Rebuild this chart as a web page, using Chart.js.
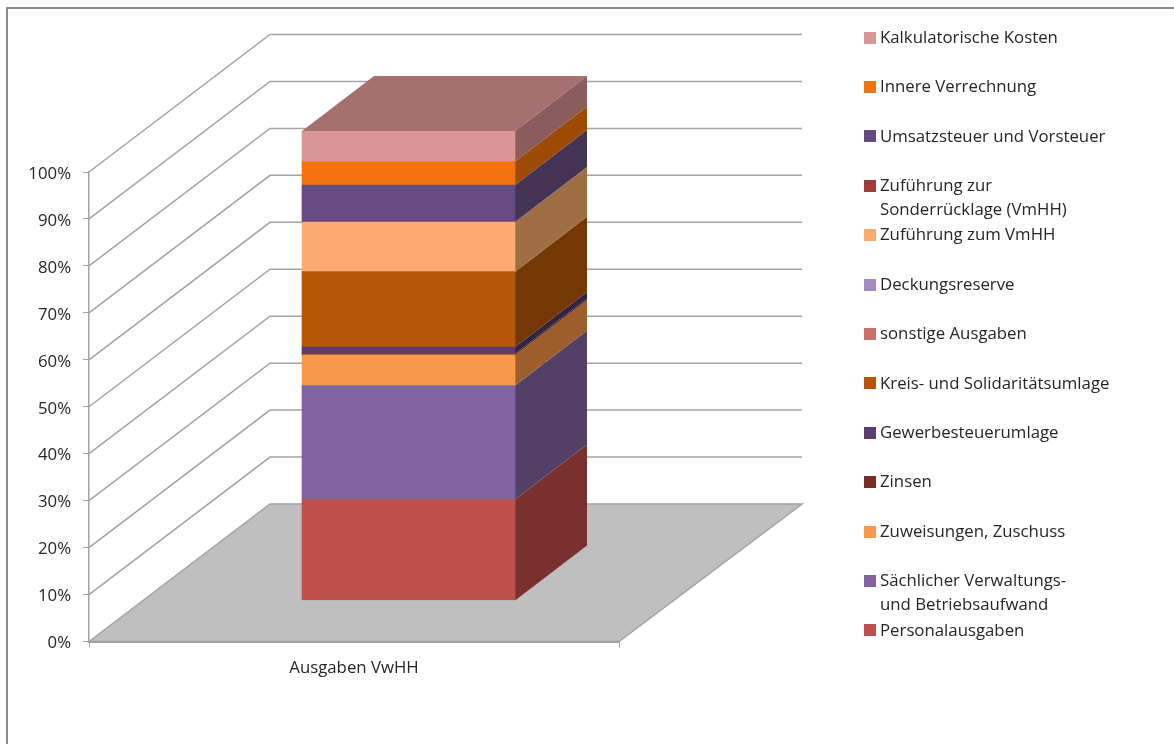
<!DOCTYPE html>
<html lang="de">
<head>
    <meta charset="UTF-8">
    <title>Ausgaben VwHH</title>
    <script src="https://cdn.jsdelivr.net/npm/chart.js"></script>
    <style>
        html, body { margin: 0; padding: 0; background: #fff; overflow: hidden; }
        #frame { position: absolute; left: 6px; top: 7px; right: 0; bottom: 0; border-left: 2px solid #8c8c8c; border-top: 2px solid #8c8c8c; }
        canvas { position: absolute; left: 0; top: 0; display: block; }
    </style>
</head>
<body>
    <div id="frame"></div>
    <canvas id="chart" width="1174" height="744"></canvas>

    <script>
        // Data, bottom of the stack first
        const categories = ['Ausgaben VwHH'];
        const seriesNames = [
            'Personalausgaben',
            'Sächlicher Verwaltungs-\nund Betriebsaufwand',
            'Zuweisungen, Zuschuss',
            'Zinsen',
            'Gewerbesteuerumlage',
            'Kreis- und Solidaritätsumlage',
            'sonstige Ausgaben',
            'Deckungsreserve',
            'Zuführung zum VmHH',
            'Zuführung zur\nSonderrücklage (VmHH)',
            'Umsatzsteuer und Vorsteuer',
            'Innere Verrechnung',
            'Kalkulatorische Kosten'
        ];
        const seriesValues = [21.5, 24.3, 6.5, 0.3, 1.4, 16.0, 0, 0, 10.6, 0, 7.9, 5.0, 6.5];
        const frontColors = ['#C0504D', '#8064A2', '#F9974A', '#772C2A', '#5A3D6E', '#B65708', '#CC706D', '#A38BC0', '#FCAB6E', '#A23B3A', '#664B82', '#F5730E', '#D99694'];
        const sideColors = ['#7B3030', '#524066', '#9E5E2C', '#4A1C1C', '#302440', '#743706', '#804644', '#675778', '#A06E45', '#662525', '#433355', '#9C4A04', '#8B5C5C'];
        const topColor = '#A5706D';
        const yTicks = [0, 10, 20, 30, 40, 50, 60, 70, 80, 90, 100];

        const FONT = '"Open Sans", sans-serif';
        const FONT_SIZE = 16.8;
        const TEXT = '#262626';
        const LINE = '#a3a3a3';

        // oblique projection: how far the back wall sits from the axis plane
        const WALL_DX = 181, WALL_DY = 137.5;
        const BAR_DX = 54.5, BAR_DY = 41;    // front face of the column
        const BAR_DEPTH_X = 72, BAR_DEPTH_Y = 55;

        function poly(ctx, pts, fill, stroke) {
            ctx.beginPath();
            pts.forEach((p, i) => i ? ctx.lineTo(p[0], p[1]) : ctx.moveTo(p[0], p[1]));
            ctx.closePath();
            if (fill) { ctx.fillStyle = fill; ctx.fill(); }
            if (stroke) { ctx.strokeStyle = stroke; ctx.lineWidth = 1.5; ctx.stroke(); }
        }

        const threeD = {
            id: 'threeD',
            // floor and wall lines go under everything
            beforeDraw(chart) {
                const { ctx, chartArea: a, scales: { y } } = chart;
                const y0 = y.getPixelForValue(0);
                ctx.save();
                poly(ctx, [[a.left, y0], [a.left + WALL_DX, y0 - WALL_DY], [a.right + WALL_DX + 2, y0 - WALL_DY], [a.right, y0]], '#bfbfbf', LINE);
                ctx.strokeStyle = LINE;
                ctx.lineWidth = 1.5;
                yTicks.slice(1).forEach(v => {
                    const py = y.getPixelForValue(v);
                    ctx.beginPath();
                    ctx.moveTo(a.left, py);
                    ctx.lineTo(a.left + WALL_DX, py - WALL_DY);
                    ctx.lineTo(a.right + WALL_DX + 2, py - WALL_DY);
                    ctx.stroke();
                });
                ctx.restore();
            },
            // side and top of the column, then shift the library's bars to the same plane
            beforeDatasetsDraw(chart) {
                const { ctx, scales: { y } } = chart;
                const bar = chart.getDatasetMeta(0).data[0];
                const left = bar.x - bar.width / 2 + BAR_DX;
                const right = bar.x + bar.width / 2 + BAR_DX;
                let sum = 0;
                ctx.save();
                seriesValues.forEach((v, i) => {
                    if (v <= 0) return;
                    const lo = y.getPixelForValue(sum) - BAR_DY;
                    sum += v;
                    const hi = y.getPixelForValue(sum) - BAR_DY;
                    poly(ctx, [[right, lo], [right + BAR_DEPTH_X, lo - BAR_DEPTH_Y], [right + BAR_DEPTH_X, hi - BAR_DEPTH_Y], [right, hi]], sideColors[i]);
                });
                const t = y.getPixelForValue(sum) - BAR_DY;
                poly(ctx, [[left, t], [left + BAR_DEPTH_X, t - BAR_DEPTH_Y], [right + BAR_DEPTH_X, t - BAR_DEPTH_Y], [right, t]], topColor);
                ctx.restore();
                ctx.save();
                ctx.translate(BAR_DX, -BAR_DY);
            },
            afterDatasetsDraw(chart) {
                chart.ctx.restore();
            },
            // legend, top entry is the last series
            afterDraw(chart) {
                const { ctx } = chart;
                ctx.save();
                ctx.font = FONT_SIZE + 'px ' + FONT;
                ctx.textBaseline = 'middle';
                ctx.textAlign = 'left';
                chart.data.datasets.slice().reverse().forEach((ds, i) => {
                    const cy = 37.5 + 49.4 * i;
                    ctx.fillStyle = ds.backgroundColor;
                    ctx.fillRect(864, Math.round(cy - 6), 12, 12);
                    ctx.fillStyle = TEXT;
                    ds.label.split('\n').forEach((line, k) => ctx.fillText(line, 880, cy + 0.5 + k * 24));
                });
                ctx.restore();
            }
        };

        new Chart(document.getElementById('chart').getContext('2d'), {
            type: 'bar',
            data: {
                labels: categories,
                datasets: seriesNames.map((name, i) => ({
                    label: name,
                    data: [seriesValues[i]],
                    backgroundColor: frontColors[i],
                    borderWidth: 0,
                    barThickness: 213
                }))
            },
            options: {
                responsive: false,
                animation: false,
                layout: { padding: { top: 172, right: 555, bottom: 0, left: 0 } },
                plugins: { legend: { display: false }, tooltip: { enabled: false } },
                scales: {
                    x: {
                        stacked: true,
                        afterFit: s => { s.height = 102.5; },
                        grid: { drawOnChartArea: false, color: LINE, tickLength: 6 },
                        border: { color: LINE, width: 2 },
                        ticks: { color: TEXT, font: { family: FONT, size: FONT_SIZE }, padding: 11, maxRotation: 0 }
                    },
                    y: {
                        stacked: true,
                        min: 0,
                        max: 100,
                        afterFit: s => { s.width = 89; },
                        afterBuildTicks: s => { s.ticks = yTicks.map(v => ({ value: v })); },
                        grid: { drawOnChartArea: false, color: LINE, tickLength: 6 },
                        border: { color: LINE, width: 1.5 },
                        ticks: { color: TEXT, font: { family: FONT, size: FONT_SIZE }, padding: 12, labelOffset: 2, callback: v => v + '%' }
                    }
                }
            },
            plugins: [threeD]
        });
    </script>
</body>
</html>
